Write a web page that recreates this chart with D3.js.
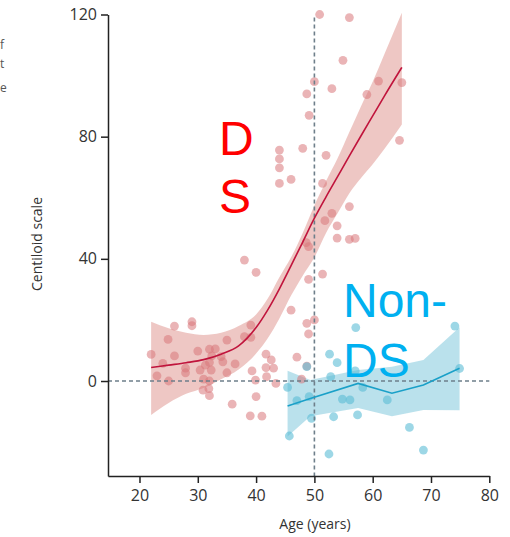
<!DOCTYPE html>
<html lang="en">
<head>
<meta charset="UTF-8"/>
<title>centiloid</title>
<script src="https://d3js.org/d3.v7.min.js"></script>
<style>
  body { margin: 0; background: #fff; }
  text { font-family: "Open Sans", sans-serif; }
  .axis path, .axis line { stroke: #222; stroke-width: 1.5px; }
  .axis text { font-size: 16px; fill: #333; }
</style>
</head>
<body>
<script>
// DS scatter (age, centiloid)
var dsAge = [50.9, 56.0, 54.9, 50.0, 48.7, 53.0, 49.1, 44.0, 48.0, 52.0, 59.0, 61.0, 65.0, 64.6,
  44.0, 44.0, 44.0, 46.0, 51.4, 56.0, 53.0, 51.8, 53.9, 53.9, 56.0, 57.0, 48.6, 49.0, 38.0, 40.0,
  51.4, 49.0, 46.0, 50.0, 48.7, 49.0, 29.0, 29.0, 26.0, 24.9, 22.0, 26.0, 30.0, 32.0, 33.0, 35.0,
  38.0, 39.1, 39.1, 41.7, 47.0, 32.4, 24.0, 23.0, 25.0, 27.9, 27.9, 30.4, 31.3, 32.0, 32.3, 31.0,
  32.0, 30.9, 31.9, 32.0, 34.0, 34.3, 36.4, 35.0, 35.9, 39.3, 39.9, 40.0, 39.0, 41.0, 42.6, 41.7,
  43.0, 41.8, 43.4, 48.7, 47.8];
var dsCl = [120, 119, 105, 98, 94, 95.7, 87, 75.6, 76.2, 73.9, 93.8, 98.2, 97.7, 78.8,
  72.7, 69.8, 64.7, 66.0, 64.7, 57.1, 54.9, 52.5, 50.8, 46.8, 46.4, 46.7, 45.3, 44.0, 39.6, 35.6,
  35.0, 33.3, 23.2, 20.0, 18.9, 15.4, 19.4, 18.1, 18.0, 13.6, 8.7, 8.2, 9.8, 10.4, 10.5, 13.4,
  14.5, 18.3, 14.3, 8.8, 7.8, 8.2, 5.8, 1.7, 0.0, 4.2, 2.7, 3.6, 5.2, 6.1, 3.6, 0.6,
  0.0, -3.0, -2.5, -4.8, 8.0, 6.3, 5.6, 2.7, -7.6, 3.3, 0.3, -5.1, -11.4, -11.5, 6.9, 4.4,
  4.2, 1.4, -0.8, 4.9, 0.6];

// Non-DS scatter
var ndsAge = [57.1, 74.1, 52.6, 53.9, 48.7, 52.8, 57.0, 45.4, 47.0, 49.1, 54.8, 56.1, 58.3, 62.5,
  49.5, 53.3, 57.4, 66.3, 45.7, 52.5, 68.7, 74.9];
var ndsCl = [17.5, 18.0, 8.8, 6.0, 4.7, 1.4, 3.3, -2.1, -6.4, -5.1, -5.9, -6.2, -2.1, -6.2,
  -12.2, -11.7, -11.1, -15.2, -18.0, -23.9, -22.6, 4.1];

// fitted curves with confidence bands
var dsFitAge = [22, 25, 28, 31, 34, 37, 40, 42, 44, 46, 48, 50, 52, 54, 56, 58, 60, 62, 65];
var dsFit    = [4.4, 5.2, 6.0, 7.0, 8.8, 11.5, 17.5, 23.3, 30.2, 37.8, 45.5, 53.3, 60.3, 67.0, 73.7, 80.3, 86.8, 93.3, 102.7];
var dsUpper  = [19.4, 17.3, 15.8, 15.1, 15.8, 18, 21.8, 27, 34, 40.5, 48.5, 57.5, 65.5, 73, 81.5, 90, 98, 107, 120.6];
var dsLower  = [-11.1, -7.2, -4.2, -2.3, 0.6, 3.8, 9, 14, 20.5, 28, 34.5, 40.5, 48.5, 55, 61.5, 66.5, 71, 76, 84];

var ndsFitAge = [45.4, 49.3, 57.5, 63.3, 68.7, 74.9];
var ndsFit    = [-8.2, -5.7, -0.8, -4.0, -1.3, 4.2];
var ndsUpper  = [3.4, 0.3, 3.6, 4.7, 6.9, 17.6];
var ndsLower  = [-18.2, -11.5, -8.8, -11.5, -9.5, -9.6];

var xTicks = [20, 30, 40, 50, 60, 70, 80];
var yTicks = [0, 40, 80, 120];

var width = 510, height = 537;

var svg = d3.select("body")
  .append("svg")
    .attr("width", width)
    .attr("height", height);

var x = d3.scaleLinear()
  .domain([14.6, 80])
  .range([108, 489.3]);

var y = d3.scaleLinear()
  .domain([-31.1, 120])
  .range([476, 14.5]);

function rows(ages, a, b, c) {
  return ages.map(function(d, i) { return {age: d, fit: a[i], hi: b[i], lo: c[i]}; });
}
var dsRows = rows(dsFitAge, dsFit, dsUpper, dsLower);
var ndsRows = rows(ndsFitAge, ndsFit, ndsUpper, ndsLower);

// bands
var dsArea = d3.area()
  .x(function(d) { return x(d.age); })
  .y0(function(d) { return y(d.lo); })
  .y1(function(d) { return y(d.hi); })
  .curve(d3.curveMonotoneX);

svg.append("path")
  .datum(dsRows)
  .attr("d", dsArea)
  .attr("fill", "#e3a19c")
  .attr("opacity", 0.6);

var ndsArea = d3.area()
  .x(function(d) { return x(d.age); })
  .y0(function(d) { return y(d.lo); })
  .y1(function(d) { return y(d.hi); });

svg.append("path")
  .datum(ndsRows)
  .attr("d", ndsArea)
  .attr("fill", "#8ccde0")
  .attr("opacity", 0.6);

// points
svg.selectAll("dsdot")
  .data(dsAge)
  .enter()
  .append("circle")
    .attr("cx", function(d) { return x(d); })
    .attr("cy", function(d, i) { return y(dsCl[i]); })
    .attr("r", 4.4)
    .style("fill", "#d8777a")
    .style("opacity", 0.55);

svg.selectAll("ndsdot")
  .data(ndsAge)
  .enter()
  .append("circle")
    .attr("cx", function(d) { return x(d); })
    .attr("cy", function(d, i) { return y(ndsCl[i]); })
    .attr("r", 4.4)
    .style("fill", "#5bbcd6")
    .style("opacity", 0.6);

// reference lines
svg.append("line")
  .attr("x1", x(14.6)).attr("x2", x(80))
  .attr("y1", y(0)).attr("y2", y(0))
  .attr("stroke", "#6e7f8a")
  .attr("stroke-width", 1.6)
  .attr("stroke-dasharray", "4,3");

svg.append("line")
  .attr("x1", x(50)).attr("x2", x(50))
  .attr("y1", y(119)).attr("y2", y(-31.1))
  .attr("stroke", "#6e7f8a")
  .attr("stroke-width", 1.6)
  .attr("stroke-dasharray", "4,3");

// fit lines
var dsLine = d3.line()
  .x(function(d) { return x(d.age); })
  .y(function(d) { return y(d.fit); })
  .curve(d3.curveMonotoneX);

svg.append("path")
  .datum(dsRows)
  .attr("d", dsLine)
  .attr("fill", "none")
  .attr("stroke", "#c0143c")
  .attr("stroke-width", 1.6);

var ndsLine = d3.line()
  .x(function(d) { return x(d.age); })
  .y(function(d) { return y(d.fit); });

svg.append("path")
  .datum(ndsRows)
  .attr("d", ndsLine)
  .attr("fill", "none")
  .attr("stroke", "#1aa0c8")
  .attr("stroke-width", 1.6);

// axes
svg.append("g")
  .attr("class", "axis")
  .attr("transform", "translate(0," + y(-31.1) + ")")
  .call(d3.axisBottom(x).tickValues(xTicks).tickSize(7).tickSizeOuter(0).tickPadding(7));

svg.append("g")
  .attr("class", "axis")
  .attr("transform", "translate(" + x(14.6) + ",0)")
  .call(d3.axisLeft(y).tickValues(yTicks).tickSize(7).tickSizeOuter(0).tickPadding(4));

svg.append("text")
  .attr("x", 315)
  .attr("y", 529)
  .attr("text-anchor", "middle")
  .style("font-size", "14px")
  .style("fill", "#333")
  .text("Age (years)");

svg.append("text")
  .attr("transform", "translate(42,244)rotate(-90)")
  .attr("text-anchor", "middle")
  .style("font-size", "14px")
  .style("fill", "#333")
  .text("Centiloid scale");

// letters left over at the left edge
svg.selectAll("frag")
  .data(["f", "t", "e"])
  .enter()
  .append("text")
    .attr("x", 0)
    .attr("y", function(d, i) { return [49, 68, 92][i]; })
    .style("font-size", "12px")
    .style("fill", "#555")
    .text(function(d) { return d; });

// big group labels
var big = [
  {t: "D", x: 219, y: 155, c: "#ff0000"},
  {t: "S", x: 219, y: 213, c: "#ff0000"},
  {t: "Non-", x: 343, y: 317, c: "#00b0f0"},
  {t: "DS", x: 343, y: 377, c: "#00b0f0"}
];
svg.selectAll("big")
  .data(big)
  .enter()
  .append("text")
    .attr("x", function(d) { return d.x; })
    .attr("y", function(d) { return d.y; })
    .style("font-family", "'Liberation Sans', Arial, sans-serif")
    .style("font-size", "48px")
    .style("fill", function(d) { return d.c; })
    .text(function(d) { return d.t; });
</script>
</body>
</html>
